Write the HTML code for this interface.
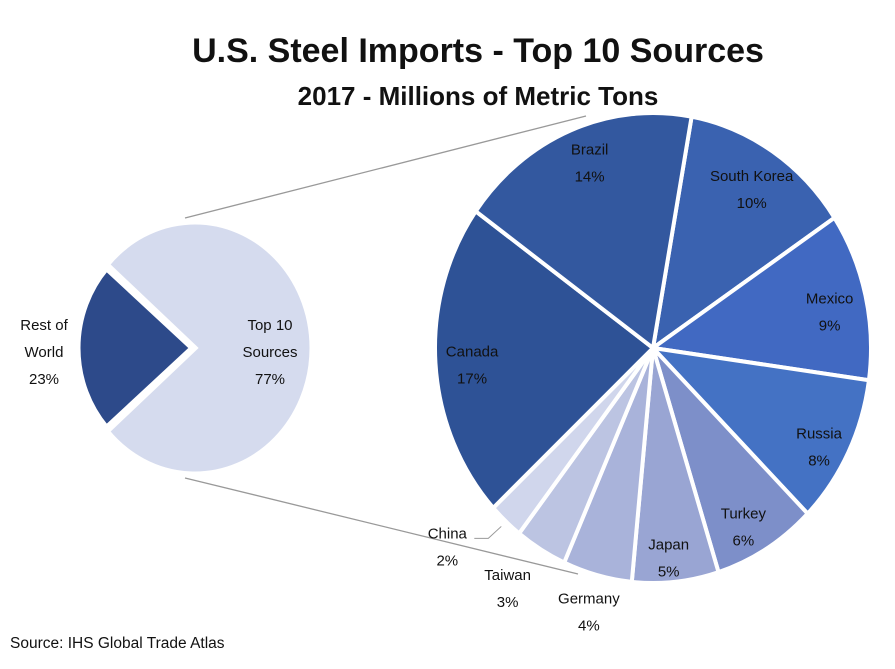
<!DOCTYPE html>
<html><head><meta charset="utf-8"><style>
body{margin:0;background:#fff;}
svg text{font-family:"Liberation Sans",sans-serif;}
</style></head><body>
<svg width="895" height="664" viewBox="0 0 895 664" id="chart">
<text x="478" y="62" text-anchor="middle" font-size="34" font-weight="bold" fill="#111">U.S. Steel Imports - Top 10 Sources</text>
<text x="478" y="105" text-anchor="middle" font-size="26" font-weight="bold" fill="#111">2017 - Millions of Metric Tons</text>
<text x="10" y="648" font-size="15.5" fill="#111">Source: IHS Global Trade Atlas</text>
<line x1="185" y1="218" x2="586" y2="116" stroke="#999" stroke-width="1.3"/>
<line x1="185" y1="478" x2="578" y2="574" stroke="#999" stroke-width="1.3"/>
<g id="small"></g>
<g id="big"></g>
</svg>
<script>
const categories=["South Korea","Mexico","Russia","Turkey","Japan","Germany","Taiwan","China","Canada","Brazil"];
const values=[10,9,8,6,5,4,3,2,17,14];
const summaryCategories=["Top 10 Sources","Rest of World"];
const summaryValues=[77,23];
const colors=["#3a62b0","#4169c2","#4472c4","#7d8fc9","#99a5d3","#a9b3da","#bcc4e2","#d0d6ec","#2e5296","#33589f"];
const labelR=[0.85,0.85,0.85,0.85,0.87,1.15,1.18,1.22,0.85,0.87];
const labelDX=[-3,-4,0,-6,-4,0,-13,-26,4,8];
const labelDY=[8,8,10,8,6,2,2,-13,4,4];
const NS="http://www.w3.org/2000/svg";
function mk(t,a,p){const e=document.createElementNS(NS,t);for(const k in a)e.setAttribute(k,a[k]);p.appendChild(e);return e;}
function pt(cx,cy,rx,ry,deg,f){const r=deg*Math.PI/180;return [cx+rx*f*Math.sin(r),cy-ry*f*Math.cos(r)];}
function wedge(cx,cy,rx,ry,a0,a1){const p0=pt(cx,cy,rx,ry,a0,1),p1=pt(cx,cy,rx,ry,a1,1);const lg=(a1-a0)>180?1:0;
return `M${cx},${cy}L${p0[0]},${p0[1]}A${rx},${ry} 0 ${lg} 1 ${p1[0]},${p1[1]}Z`;}
function label(g,x,y,lines,name,size){const t=mk('text',{x:x,y:y-(lines.length-1)*13+5,'text-anchor':'middle','font-size':size||15,fill:'#111'},g);


lines.forEach((l,i)=>{const s=mk('tspan',{x:x,dy:i?27:0},t);s.textContent=l;});}
const big=document.getElementById('big');
const total=values.reduce((a,b)=>a+b,0);
const BCX=653,BCY=348,BRX=218,BRY=235;
let a=10.2;
values.forEach((v,i)=>{const sw=v/total*360;
const p=mk('path',{d:wedge(BCX,BCY,BRX,BRY,a,a+sw),fill:colors[i],stroke:'#fff','stroke-width':4,'stroke-linejoin':'round'},big);


const mid=a+sw/2;const lp=pt(BCX,BCY,BRX,BRY,mid,labelR[i]);
const lx=lp[0]+labelDX[i],ly=lp[1]+labelDY[i];
label(big,lx,ly,[categories[i],values[i]+'%'],'label-'+categories[i].toLowerCase().replace(/ /g,'-'));
if(categories[i]==="China"){const e=pt(BCX,BCY,BRX,BRY,mid,1.03);
const pl=mk('polyline',{points:`${e[0]},${e[1]} ${e[0]-13},${ly-8} ${lx+27},${ly-8}`,fill:'none',stroke:'#999','stroke-width':1},big);

}
a+=sw;});
const small=document.getElementById('small');
const SCX=195,SCY=348,SRX=117,SRY=126;
const st=summaryValues.reduce((x,y)=>x+y,0);
const rest=summaryValues[1]/st*360;
const r0=270-rest/2,r1=270+rest/2;
const sp1=mk('path',{d:wedge(SCX,SCY,SRX,SRY,r1-360,r0),fill:'#d5dbee',stroke:'#fff','stroke-width':5},small);


const sp2=mk('path',{d:wedge(SCX-3,SCY,SRX-3,SRY-6,r0,r1),fill:'#2d4a8a',stroke:'#fff','stroke-width':5},small);


label(small,270,351,["Top 10","Sources",summaryValues[0]+'%'],'label-top-10-sources');
label(small,44,351,["Rest of","World",summaryValues[1]+'%'],'label-rest-of-world');
</script>
</body></html>
